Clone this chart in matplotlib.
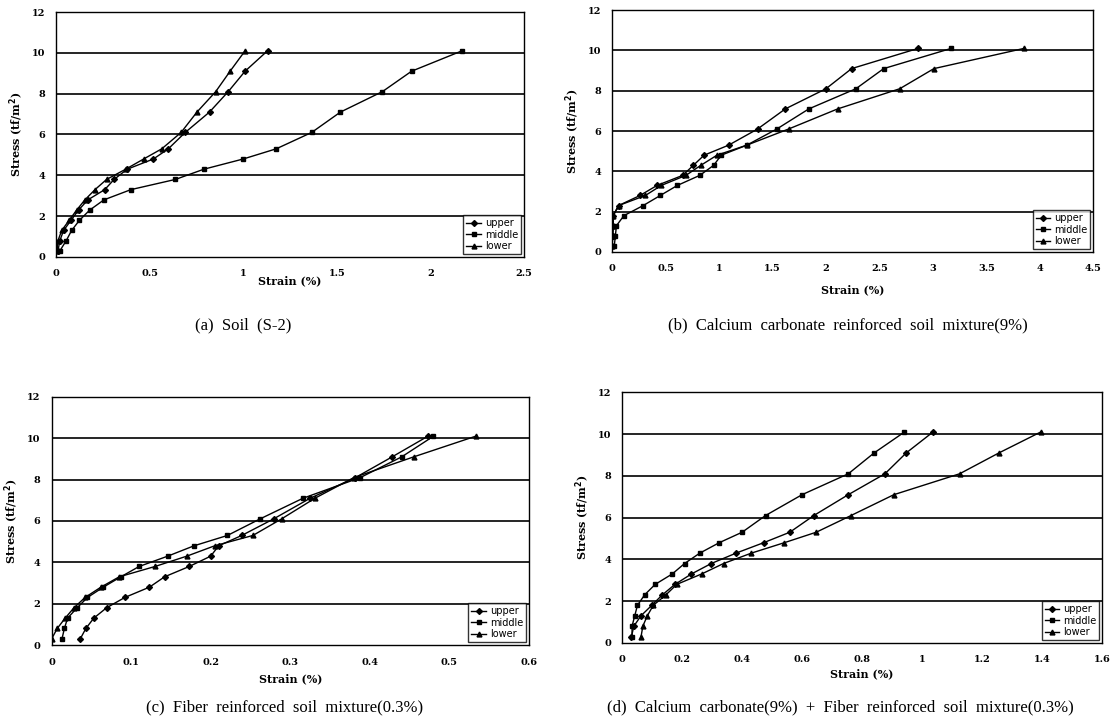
import matplotlib.pyplot as plt

# stress levels (tf/m2), shared by all tests
stress = [0.3, 0.8, 1.3, 1.8, 2.3, 2.8, 3.3, 3.8, 4.3, 4.8, 5.3, 6.1, 7.1, 8.1, 9.1, 10.1]

# (a) Soil (S-2) - strain (%)
a_upper = [0.01, 0.02, 0.04, 0.08, 0.12, 0.17, 0.26, 0.31, 0.38, 0.52, 0.60, 0.69, 0.82, 0.92, 1.01, 1.13]
a_middle = [0.02, 0.054, 0.083, 0.125, 0.18, 0.256, 0.40, 0.638, 0.79, 1.0, 1.177, 1.366, 1.52, 1.744, 1.90, 2.17]
a_lower = [0.005, 0.01, 0.03, 0.07, 0.11, 0.154, 0.208, 0.27, 0.372, 0.468, 0.565, 0.668, 0.753, 0.853, 0.93, 1.01]

# (b) Calcium carbonate reinforced soil mixture (9%)
b_upper = [0.0, 0.005, 0.01, 0.01, 0.06, 0.26, 0.42, 0.66, 0.76, 0.86, 1.09, 1.36, 1.62, 2.0, 2.24, 2.86]
b_middle = [0.02, 0.03, 0.04, 0.11, 0.29, 0.45, 0.61, 0.82, 0.95, 1.02, 1.26, 1.54, 1.84, 2.28, 2.54, 3.17]
b_lower = [0.0, 0.005, 0.01, 0.01, 0.06, 0.31, 0.46, 0.69, 0.83, 0.98, 1.26, 1.65, 2.11, 2.69, 3.01, 3.85]

# (c) Fiber reinforced soil mixture (0.3%)
c_upper = [0.036, 0.043, 0.053, 0.069, 0.092, 0.123, 0.142, 0.173, 0.20, 0.21, 0.239, 0.279, 0.325, 0.382, 0.428, 0.473]
c_middle = [0.013, 0.016, 0.02, 0.032, 0.045, 0.065, 0.087, 0.110, 0.146, 0.179, 0.221, 0.262, 0.316, 0.388, 0.44, 0.48]
c_lower = [0.0, 0.007, 0.017, 0.028, 0.042, 0.062, 0.085, 0.13, 0.17, 0.205, 0.253, 0.289, 0.331, 0.38, 0.455, 0.533]

# (d) Calcium carbonate (9%) + fiber (0.3%)
d_upper = [0.031, 0.039, 0.063, 0.099, 0.134, 0.176, 0.231, 0.297, 0.38, 0.472, 0.559, 0.639, 0.754, 0.876, 0.947, 1.036]
d_middle = [0.033, 0.033, 0.042, 0.051, 0.075, 0.11, 0.167, 0.208, 0.259, 0.324, 0.40, 0.478, 0.60, 0.754, 0.84, 0.941]
d_lower = [0.063, 0.069, 0.084, 0.104, 0.146, 0.182, 0.265, 0.338, 0.431, 0.541, 0.647, 0.763, 0.906, 1.125, 1.256, 1.395]

# rect, data, xmax, step, tick labels, caption, caption pos (px), xlabel pad
panels = [
    ([0.0505, 0.647, 0.421, 0.3365], a_upper, a_middle, a_lower, 2.5, 0.5,
     ['0', '0.5', '1', '1.5', '2', '2.5'], '(a)  Soil  (S-2)', (243, 325), -2),
    ([0.551, 0.654, 0.433, 0.332], b_upper, b_middle, b_lower, 4.5, 0.5,
     ['0', '0.5', '1', '1.5', '2', '2.5', '3', '3.5', '4', '4.5'],
     '(b)  Calcium  carbonate  reinforced  soil  mixture(9%)', (848, 325), 8),
    ([0.0465, 0.114, 0.4295, 0.3407], c_upper, c_middle, c_lower, 0.6, 0.1,
     ['0', '0.1', '0.2', '0.3', '0.4', '0.5', '0.6'],
     '(c)  Fiber  reinforced  soil  mixture(0.3%)', (285, 707), 4.5),
    ([0.56, 0.117, 0.432, 0.344], d_upper, d_middle, d_lower, 1.6, 0.2,
     ['0', '0.2', '0.4', '0.6', '0.8', '1', '1.2', '1.4', '1.6'],
     '(d)  Calcium  carbonate(9%)  +  Fiber  reinforced  soil  mixture(0.3%)', (840, 707), 3),
]

fig = plt.figure(figsize=(11.11, 7.28), dpi=100)

for rect, up, mid, low, xmax, xstep, xlabels, caption, cpos, lpad in panels:
    ax = fig.add_axes(rect)
    ax.plot(up, stress, color='black', lw=1.0, marker='D', ms=3, label='upper')
    ax.plot(mid, stress, color='black', lw=1.0, marker='s', ms=3.5, label='middle')
    ax.plot(low, stress, color='black', lw=1.0, marker='^', ms=3.5, label='lower')
    ax.set_xlim(0, xmax)
    ax.set_ylim(0, 12)
    ax.set_xticks([i * xstep for i in range(len(xlabels))])
    ax.set_xticklabels(xlabels)
    ax.set_yticks([0, 2, 4, 6, 8, 10, 12])
    for y in [2, 4, 6, 8, 10]:
        ax.axhline(y, color='black', lw=1.2, zorder=0)
    ax.tick_params(axis='x', length=0, pad=9, labelsize=7)
    ax.tick_params(axis='y', length=0, pad=8, labelsize=7)
    for t in ax.get_xticklabels() + ax.get_yticklabels():
        t.set_fontfamily('DejaVu Serif')
        t.set_fontweight('bold')
    for s in ax.spines.values():
        s.set_linewidth(1.0)
    ax.set_xlabel('Strain (%)', fontsize=8, fontweight='bold', family='DejaVu Serif', labelpad=lpad)
    ax.set_ylabel('Stress (tf/m$^\\mathbf{2}$)', fontsize=8, fontweight='bold', family='DejaVu Serif', labelpad=4)
    leg = ax.legend(loc='lower right', fontsize=7, frameon=True, fancybox=False,
                    edgecolor='black', borderaxespad=0.3, handlelength=1.5,
                    labelspacing=0.15, borderpad=0.3, handletextpad=0.4)
    leg.get_frame().set_linewidth(1.0)
    fig.text(cpos[0] / 1111, 1 - cpos[1] / 728, caption, ha='center', va='center',
             fontsize=12, family='Liberation Serif')

fig.savefig('out.png', dpi=100)
